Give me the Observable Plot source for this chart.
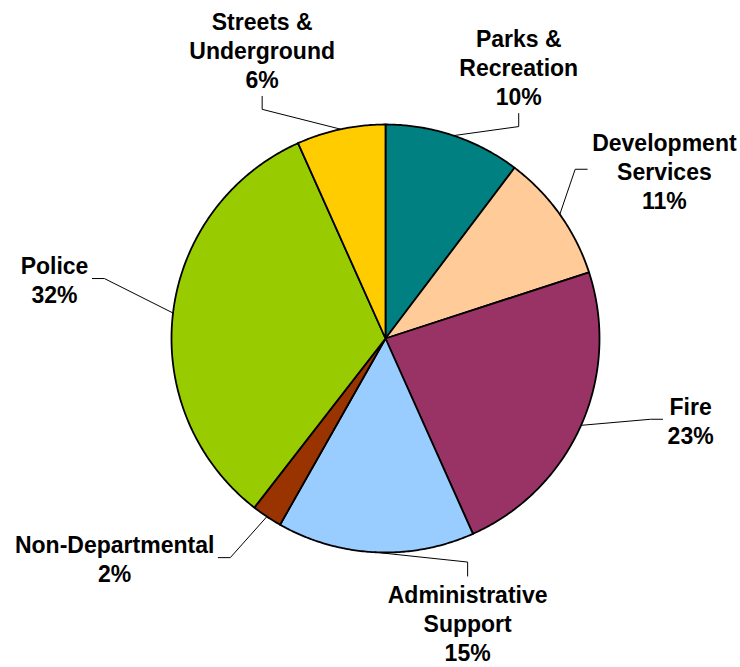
<!DOCTYPE html>
<html><head><meta charset="utf-8">
<script src="https://cdn.jsdelivr.net/npm/d3@7"></script>
<script src="https://cdn.jsdelivr.net/npm/@observablehq/plot@0.6"></script>
<style>body{margin:0;background:#fff} svg{display:block}</style>
</head><body><div id="chart"></div>
<script>
// ---- data (clockwise from 12 o'clock) ----
const names = ["Parks & Recreation","Development Services","Fire","Administrative Support","Non-Departmental","Police","Streets & Underground"];
const nameLines = [["Parks &","Recreation"],["Development","Services"],["Fire"],["Administrative","Support"],["Non-Departmental"],["Police"],["Streets &","Underground"]];
const shares = [10.3, 9.7, 23.3, 14.9, 2.3, 32.8, 6.7];
const pctLabels = ["10%","11%","23%","15%","2%","32%","6%"];
const colors = ["#008080","#FFCC99","#993366","#99CCFF","#993300","#99CC00","#FFCC00"];

// ---- layout (label placement, polar: degrees clockwise from north, distance in radii) ----
const labelAngle = [26.1, 58.9, 105.0, 163.9, 230.9, 280.1, 336.9];
const labelDist  = [1.415, 1.522, 1.476, 1.384, 1.631, 1.571, 1.469];

const W = 740, H = 667, R = 214, CX = 385, CY = 338;
const FONT_SIZE = 23, LINE_H = 29;
const FONT_FAMILY = '"Liberation Sans", Arial, sans-serif';
const rad = d => d * Math.PI / 180;
const polar = (a, r) => [r * Math.sin(rad(a)), -r * Math.cos(rad(a))];

const total = d3.sum(shares);
let acc = 0;
const slices = names.map((name, i) => {
  const a0 = acc / total * 360; acc += shares[i]; const a1 = acc / total * 360;
  return {name, i, a0, a1, mid: (a0 + a1) / 2};
});

const slicePts = slices.map(s => {
  const pts = [{x: 0, y: 0}];
  const n = Math.max(2, Math.ceil((s.a1 - s.a0) / 0.5));
  for (let k = 0; k <= n; k++) {
    const [x, y] = polar(s.a0 + (s.a1 - s.a0) * k / n, R);
    pts.push({x, y});
  }
  return pts;
});

const ctx = document.createElement("canvas").getContext("2d");
ctx.font = `bold ${FONT_SIZE}px ${FONT_FAMILY}`;

const labelData = [];
const leaderData = [];
slices.forEach((s, i) => {
  const lines = nameLines[i].concat(pctLabels[i]);
  const [lx, ly] = polar(labelAngle[i], labelDist[i] * R);
  labelData.push({x: lx, y: ly, text: lines.join("\n")});
  const halfW = d3.max(lines, t => ctx.measureText(t).width) / 2;
  const halfH = (lines.length - 1) / 2 * LINE_H;
  const a = labelAngle[i];
  let s0, e;
  if (a >= 315 || a < 45) {        // label above
    s0 = [lx, ly + halfH + 18]; e = [lx, ly + halfH + 31];
  } else if (a < 135) {            // label right
    s0 = [lx - halfW - 5, ly - 1]; e = [lx - halfW - 17, ly - 1];
  } else if (a < 225) {            // label below
    s0 = [lx, ly - halfH - 18]; e = [lx, ly - halfH - 32];
  } else {                         // label left
    s0 = [lx + halfW + 4, ly - 1]; e = [lx + halfW + 16, ly - 1];
  }
  const p = polar(s.mid, R);
  [p, e, s0].forEach(([x, y]) => leaderData.push({name: s.name, x, y}));
});

const chart = Plot.plot({
  width: W, height: H,
  marginLeft: CX - R, marginRight: W - CX - R,
  marginTop: CY - R, marginBottom: H - CY - R,
  x: {type: "linear", domain: [-R, R], axis: null},
  y: {type: "linear", domain: [R, -R], axis: null},
  style: {fontFamily: FONT_FAMILY, background: "#fff", overflow: "visible"},
  marks: [
    ...slicePts.map((pts, i) => Plot.line(pts, {
      x: "x", y: "y", curve: "linear-closed",
      fill: colors[i], stroke: "#000", strokeWidth: 1.8, strokeLinejoin: "round"
    })),
    Plot.line(leaderData, {x: "x", y: "y", z: "name", stroke: "#000", strokeWidth: 1}),
    Plot.text(labelData, {
      x: "x", y: "y", text: "text",
      fontSize: FONT_SIZE, fontWeight: "bold", lineHeight: LINE_H / FONT_SIZE, fill: "#000"
    })
  ]
});
document.getElementById("chart").appendChild(chart);
</script>
</body></html>
